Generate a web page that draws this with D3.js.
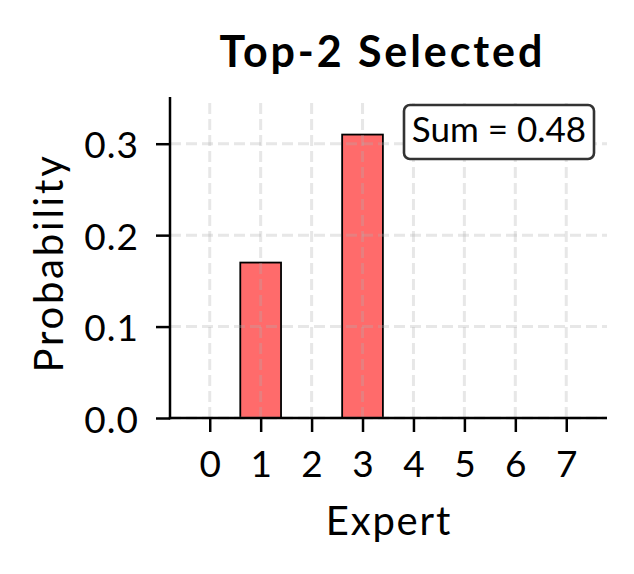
<!DOCTYPE html>
<html>
<head>
<meta charset="utf-8">
<script src="https://cdn.jsdelivr.net/npm/d3@7"></script>
<style>
  html, body { margin: 0; padding: 0; background: #fff; }
  svg { display: block; font-family: Lato, "Noto Sans", sans-serif; }
</style>
</head>
<body>
<svg id="chart" width="634" height="574"></svg>
<script>
const experts = [0, 1, 2, 3, 4, 5, 6, 7];
const probabilities = [0, 0.17, 0, 0.31, 0, 0, 0, 0];
const yTicks = [0.0, 0.1, 0.2, 0.3];
const titleText = "Top-2 Selected";
const xLabel = "Expert";
const yLabel = "Probability";
const sumText = "Sum = " + d3.sum(probabilities).toFixed(2);

(function () {
const svg = d3.select("#chart");
const mL = 170, mR = 607, mT = 98, mB = 418;

const x = d3.scaleLinear().domain([-0.78, 7.8]).range([mL, mR]);
const y = d3.scaleLinear().domain([0, 0.35]).range([mB, mT]);
const barW = 0.8;

// bars
svg.append("g").selectAll("rect")
  .data(experts.map((e, i) => ({ e, v: probabilities[i] })).filter(d => d.v > 0))
  .join("rect")
  .attr("x", d => x(d.e - barW / 2))
  .attr("width", d => x(d.e + barW / 2) - x(d.e - barW / 2))
  .attr("y", d => y(d.v))
  .attr("height", d => y(0) - y(d.v))
  .attr("fill", "#ff6b6b")
  .attr("stroke", "#000")
  .attr("stroke-width", 1.8);

// grid (drawn above bars, semi-transparent)
const grid = svg.append("g").attr("stroke", "#b0b0b0").attr("stroke-opacity", 0.3)
  .attr("stroke-width", 3).attr("stroke-dasharray", "11,5");
grid.selectAll("line.v").data(experts).join("line").attr("class", "v")
  .attr("x1", d => x(d)).attr("x2", d => x(d)).attr("y1", mB).attr("y2", mT);
grid.selectAll("line.h").data(yTicks).join("line").attr("class", "h")
  .attr("y1", d => y(d)).attr("y2", d => y(d)).attr("x1", mL).attr("x2", mR);

// axes
const xAxis = d3.axisBottom(x).tickValues(experts).tickFormat(d3.format("d")).tickSize(14).tickPadding(8);
const yAxis = d3.axisLeft(y).tickValues(yTicks).tickFormat(d3.format(".1f")).tickSize(14).tickPadding(17);

const gx = svg.append("g").attr("transform", `translate(0,${mB})`).call(xAxis);
const gy = svg.append("g").attr("transform", `translate(${mL},0)`).call(yAxis);
[gx, gy].forEach(g => {
  g.select(".domain").remove();
  g.selectAll(".tick line").attr("stroke", "#000").attr("stroke-width", 2.5);
  g.selectAll(".tick text").attr("fill", "#000")
    .style("font-size", "37px").style("letter-spacing", "1px")
    .style("font-family", "Lato, 'Noto Sans', sans-serif");
});
gx.selectAll(".tick text").attr("y", 59).attr("dy", 0).attr("dx", 0.5);
gy.selectAll(".tick text").attr("dy", 14);

// spines
svg.append("line").attr("x1", mL).attr("x2", mL).attr("y1", mT - 1).attr("y2", mB + 1.25)
  .attr("stroke", "#000").attr("stroke-width", 2.5);
svg.append("line").attr("x1", mL - 1.25).attr("x2", mR).attr("y1", mB).attr("y2", mB)
  .attr("stroke", "#000").attr("stroke-width", 2.5);

// title
svg.append("text").attr("x", 381 + 1.3).attr("y", 67).attr("text-anchor", "middle")
  .style("font-size", "43px").style("font-weight", "bold").style("letter-spacing", "2.9px")
  .text(titleText);

// axis labels
svg.append("text").attr("x", 388 + 0.9).attr("y", 535).attr("text-anchor", "middle")
  .style("font-size", "40px").style("letter-spacing", "1.8px").text(xLabel);
svg.append("text").attr("transform", `translate(63,263) rotate(-90)`).attr("text-anchor", "middle")
  .style("font-size", "40px").style("letter-spacing", "2.8px").text(yLabel);

// annotation box
const ann = svg.append("g");
ann.append("rect").attr("x", 404).attr("y", 105).attr("width", 190).attr("height", 54)
  .attr("rx", 6).attr("fill", "#fff").attr("stroke", "#333").attr("stroke-width", 2.6);
ann.append("text").attr("x", 499).attr("y", 141.5).attr("text-anchor", "middle")
  .style("font-size", "35px").text(sumText);
})();
</script>
</body>
</html>
